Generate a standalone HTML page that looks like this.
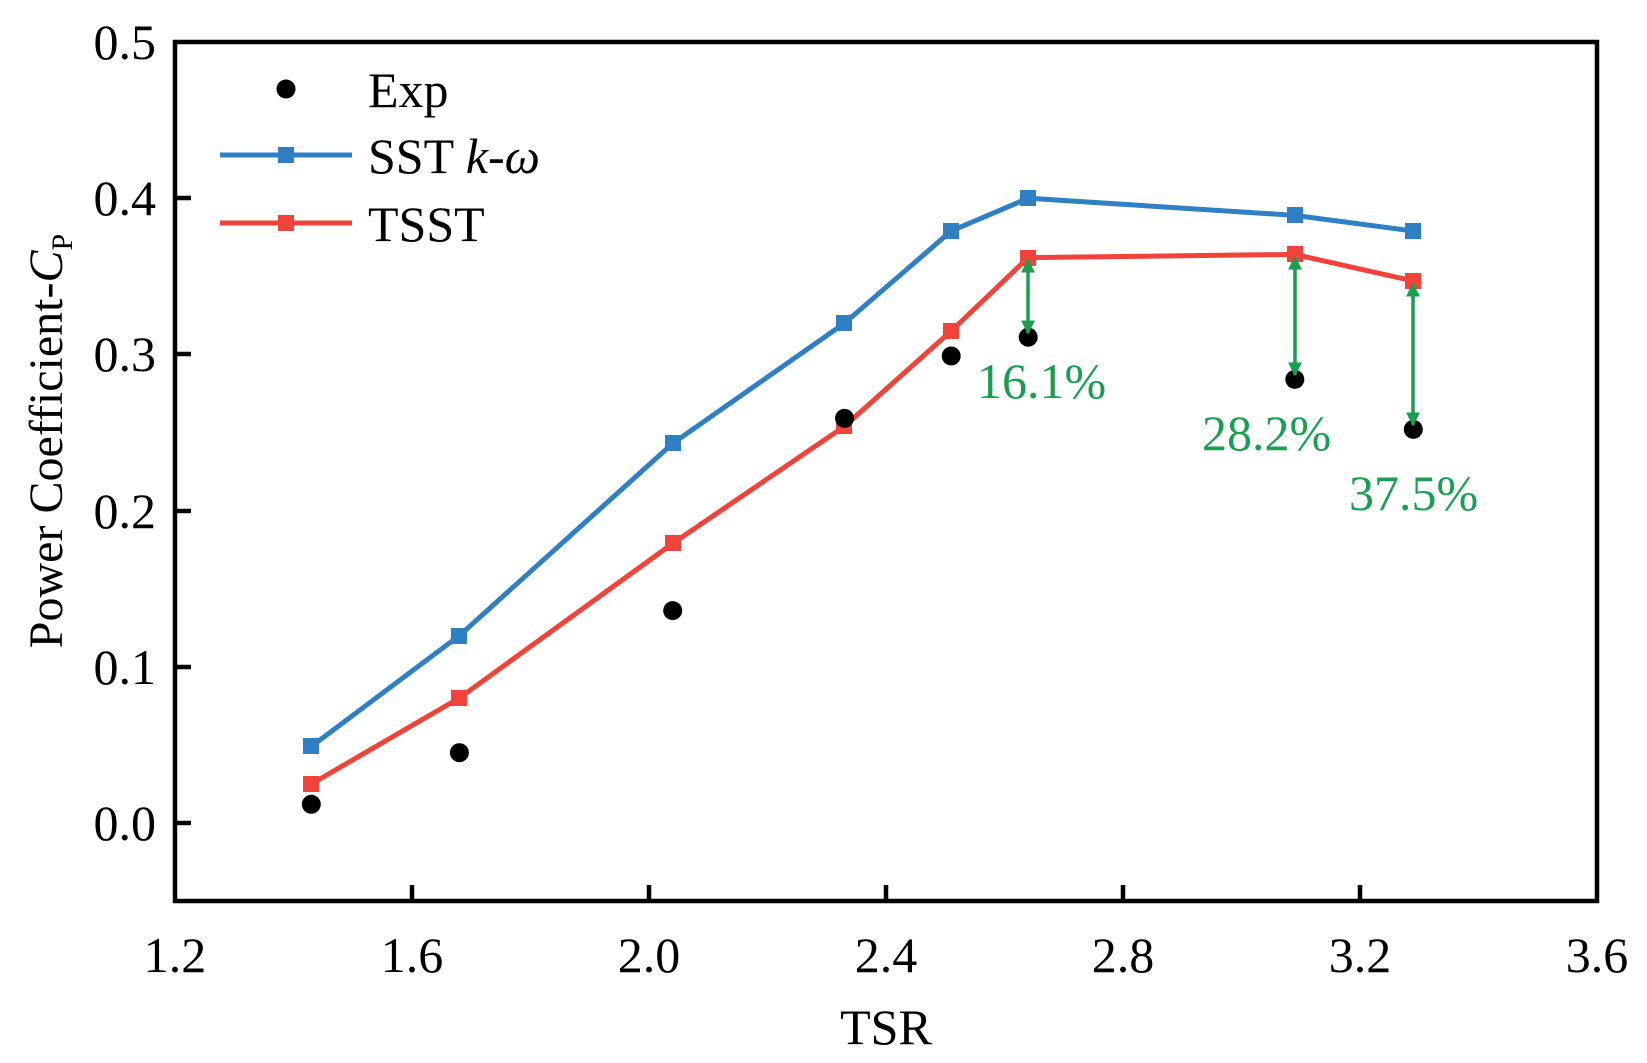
<!DOCTYPE html>
<html><head><meta charset="utf-8"><style>body{margin:0;background:#fff}svg{display:block}text{font-family:"Liberation Serif",serif}</style></head>
<body>
<svg width="1647" height="1063" viewBox="0 0 1647 1063" xmlns="http://www.w3.org/2000/svg">
<defs>
<marker id="ah" viewBox="0 0 10 10" refX="9" refY="5" markerWidth="4" markerHeight="4" orient="auto-start-reverse"><path d="M0,0L10,5L0,10z" fill="#1a9e4f"/></marker>
</defs>
<g stroke="#000" stroke-width="4.5" fill="none">
<rect x="175" y="42" width="1422" height="859"/>
<path d="M412,901v-16M649,901v-16M886,901v-16M1123,901v-16M1360,901v-16"/>
<path d="M175,823h16M175,667h16M175,511h16M175,354h16M175,198h16"/>
</g>
<g font-size="50" fill="#000" text-anchor="middle">
<text x="175" y="972">1.2</text><text x="412" y="972">1.6</text><text x="649" y="972">2.0</text><text x="886" y="972">2.4</text><text x="1123" y="972">2.8</text><text x="1360" y="972">3.2</text><text x="1597" y="972">3.6</text>
<text x="886" y="1044">TSR</text>
</g>
<g font-size="50" fill="#000" text-anchor="end">
<text x="156" y="840">0.0</text><text x="156" y="684">0.1</text><text x="156" y="528">0.2</text><text x="156" y="371">0.3</text><text x="156" y="215">0.4</text><text x="156" y="59">0.5</text>
</g>
<text transform="translate(62,441) rotate(-90)" font-size="48" text-anchor="middle">Power Coefficient-<tspan font-style="italic">C</tspan><tspan font-size="30" dy="10">P</tspan></text>
<polyline fill="none" stroke="#2e7fc4" stroke-width="5" points="311.3,746.5 459.4,635.6 672.7,443.4 844.5,323.2 951.2,231 1028.2,198.2 1294.8,215.4 1413.3,231"/>
<g fill="#2e7fc4"><rect x="303" y="738" width="16" height="16"/><rect x="451" y="628" width="16" height="16"/><rect x="665" y="435" width="16" height="16"/><rect x="836" y="315" width="16" height="16"/><rect x="943" y="223" width="16" height="16"/><rect x="1020" y="190" width="16" height="16"/><rect x="1287" y="207" width="16" height="16"/><rect x="1405" y="223" width="16" height="16"/></g>
<polyline fill="none" stroke="#f2433a" stroke-width="5" points="311.3,784 459.4,698 672.7,543.4 844.5,426.3 951.2,331 1028.2,257.6 1294.8,254.4 1413.3,281"/>
<g fill="#f2433a"><rect x="303" y="776" width="16" height="16"/><rect x="451" y="690" width="16" height="16"/><rect x="665" y="535" width="16" height="16"/><rect x="836" y="418" width="16" height="16"/><rect x="943" y="323" width="16" height="16"/><rect x="1020" y="250" width="16" height="16"/><rect x="1287" y="246" width="16" height="16"/><rect x="1405" y="273" width="16" height="16"/></g>
<g fill="#000"><circle cx="311.3" cy="804.3" r="9.5"/><circle cx="459.4" cy="752.7" r="9.5"/><circle cx="672.7" cy="610.6" r="9.5"/><circle cx="844.5" cy="418.4" r="9.5"/><circle cx="951.2" cy="356" r="9.5"/><circle cx="1028.2" cy="337.2" r="9.5"/><circle cx="1294.8" cy="379.4" r="9.5"/><circle cx="1413.3" cy="429.4" r="9.5"/></g>
<g stroke="#1a9e4f" stroke-width="3.5" marker-start="url(#ah)" marker-end="url(#ah)">
<line x1="1028" y1="260" x2="1028" y2="333"/><line x1="1295" y1="257" x2="1295" y2="375"/><line x1="1413" y1="284" x2="1413" y2="425"/>
</g>
<g font-size="50" fill="#1a9e4f">
<text x="977" y="398">16.1%</text><text x="1202" y="450">28.2%</text><text x="1349" y="510">37.5%</text>
</g>
<circle cx="286" cy="89" r="9.5" fill="#000"/>
<line x1="220" y1="155" x2="352" y2="155" stroke="#2e7fc4" stroke-width="5"/><rect x="278" y="147" width="16" height="16" fill="#2e7fc4"/>
<line x1="220" y1="223" x2="352" y2="223" stroke="#f2433a" stroke-width="5"/><rect x="278" y="215" width="16" height="16" fill="#f2433a"/>
<g font-size="50" fill="#000"><text x="368" y="107">Exp</text><text x="368" y="173">SST <tspan font-style="italic">k-ω</tspan></text><text x="368" y="241">TSST</text></g>
</svg>
</body></html>
